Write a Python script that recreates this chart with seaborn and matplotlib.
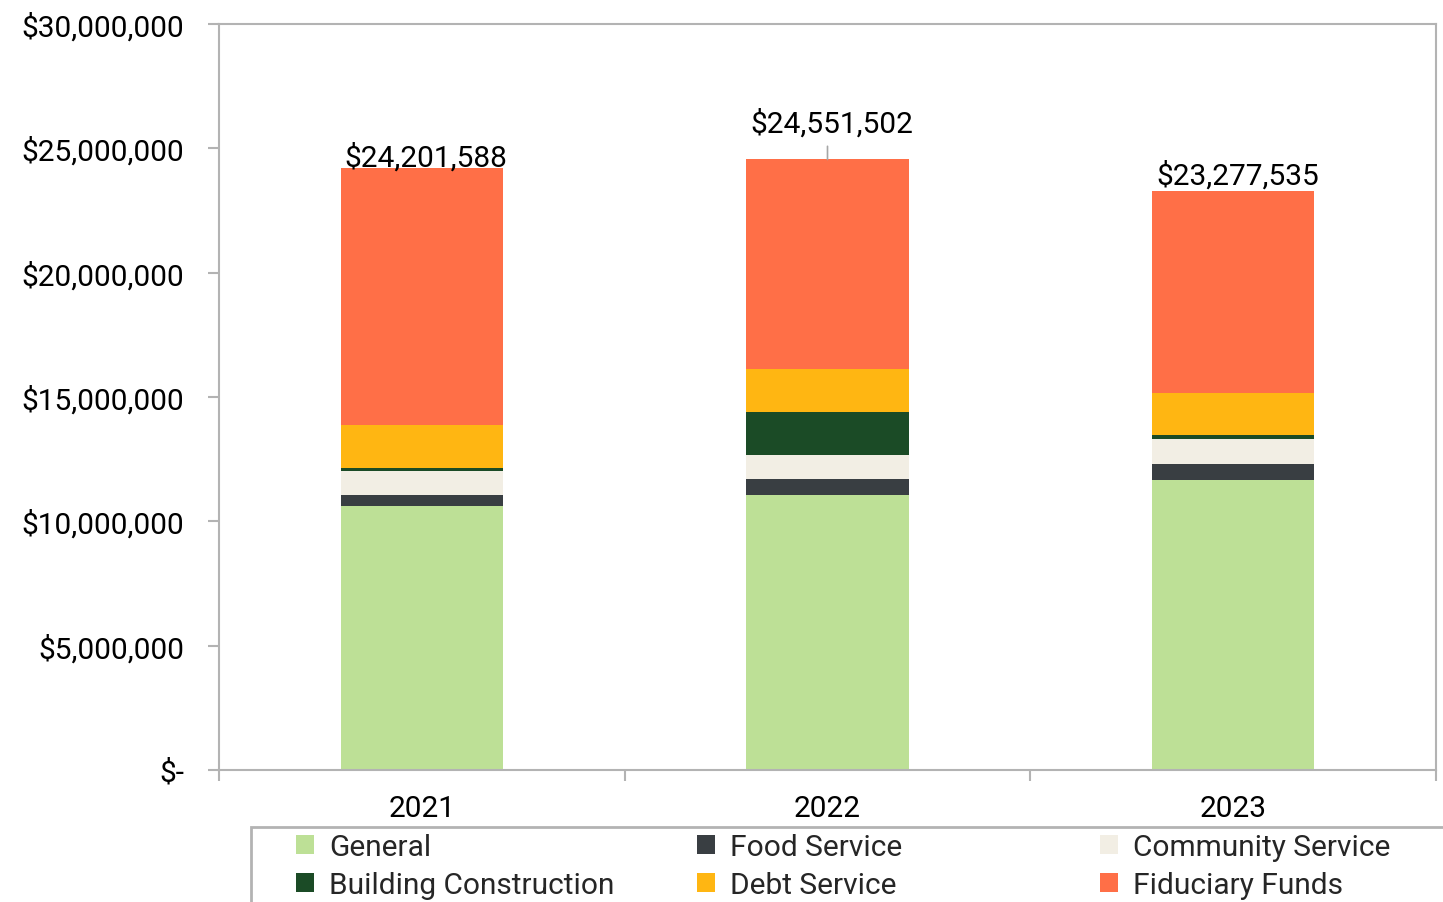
import numpy as np
import pandas as pd
import seaborn as sns
import matplotlib
matplotlib.use("Agg")
import matplotlib.pyplot as plt
from matplotlib.patches import Patch, Rectangle
from matplotlib.ticker import FuncFormatter, FixedLocator

# ---------------- data ----------------
years = ["2021", "2022", "2023"]
general = [10630000, 11060000, 11650000]
food_service = [410000, 650000, 650000]
community_service = [970000, 970000, 1030000]
building_construction = [120000, 1730000, 160000]
debt_service = [1750000, 1730000, 1690000]
fiduciary_funds = [10321588, 8411502, 8097535]
total_labels = ["$24,201,588", "$24,551,502", "$23,277,535"]

series_names = ["General", "Food Service", "Community Service",
                "Building Construction", "Debt Service", "Fiduciary Funds"]
series_values = [general, food_service, community_service,
                 building_construction, debt_service, fiduciary_funds]
colors = ["#BDE096", "#393E42", "#F2EEE4", "#1B4B26", "#FFB612", "#FF6F47"]

# ---------------- style ----------------
sns.set_style("white")
plt.rcParams["font.family"] = ["Roboto", "DejaVu Sans"]
FS = 21.5
GRAY = "#B3B3B3"

fig = plt.figure(figsize=(14.43, 9.03), dpi=100)
ax = fig.add_axes([219 / 1443, 1 - 771 / 903, (1436 - 219) / 1443, (771 - 25) / 903])

cum = np.zeros(len(years))
cums = []
for vals in series_values:
    cum = cum + np.array(vals, dtype=float)
    cums.append(cum.copy())

# draw stacked bars from the top layer down (overlay technique)
for name, c, col in reversed(list(zip(series_names, cums, colors))):
    d = pd.DataFrame({"year": years, "value": c})
    sns.barplot(data=d, x="year", y="value", order=years, color=col,
                saturation=1, width=0.40, ax=ax, linewidth=0, errorbar=None)

ax.set_xlim(-0.5, 2.5)
ax.set_ylim(0, 30_000_000)
ax.set_xlabel("")
ax.set_ylabel("")

# y axis
ax.yaxis.set_major_locator(FixedLocator(np.arange(0, 30_000_001, 5_000_000)))
ax.yaxis.set_major_formatter(FuncFormatter(lambda v, p: "$-" if v == 0 else f"${v:,.0f}"))
ax.tick_params(axis="y", which="major", left=True, length=8, width=1.5, color=GRAY,
               labelsize=FS, pad=17, labelcolor="black")
# x axis
ax.tick_params(axis="x", which="major", bottom=False, length=0, labelsize=FS, pad=17,
               labelcolor="black")
ax.xaxis.set_minor_locator(FixedLocator([-0.5, 0.5, 1.5, 2.5]))
ax.tick_params(axis="x", which="minor", bottom=True, length=8, width=1.5, color=GRAY)

for s in ax.spines.values():
    s.set_visible(True)
    s.set_color(GRAY)
    s.set_linewidth(1.5)

# total labels
offsets = [8, 26, 12]
totals = cums[-1]
for i, (t, lab, off) in enumerate(zip(totals, total_labels, offsets)):
    ax.annotate(lab, xy=(i, t), xytext=(3, off), textcoords="offset points",
                ha="center", va="center", fontsize=FS, color="black")
# leader line for the 2022 label
ax.annotate("", xy=(1, totals[1]), xytext=(0, 9.5), textcoords="offset points",
            arrowprops=dict(arrowstyle="-", color="#A6A6A6", lw=1.2,
                            shrinkA=0, shrinkB=0))

# legend frame
fig.patches.append(Rectangle((251 / 1443, -0.05), 1.1, (1 - 828 / 903) + 0.05,
                             transform=fig.transFigure, fill=False,
                             edgecolor=GRAY, linewidth=2, zorder=5))

handles = [Patch(facecolor=c, edgecolor="none") for c in colors]
col_x = [296, 697, 1100]
order = [(0, 3), (1, 4), (2, 5)]
for x, (a, b) in zip(col_x, order):
    fig.legend([handles[a], handles[b]], [series_names[a], series_names[b]],
               loc="upper left", bbox_to_anchor=(x / 1443, 1 - 834 / 903),
               frameon=False, fontsize=FS, handlelength=0.6, handleheight=0.6,
               handletextpad=0.5, labelspacing=0.32, borderpad=0,
               borderaxespad=0)

fig.savefig("out.png", dpi=100)
